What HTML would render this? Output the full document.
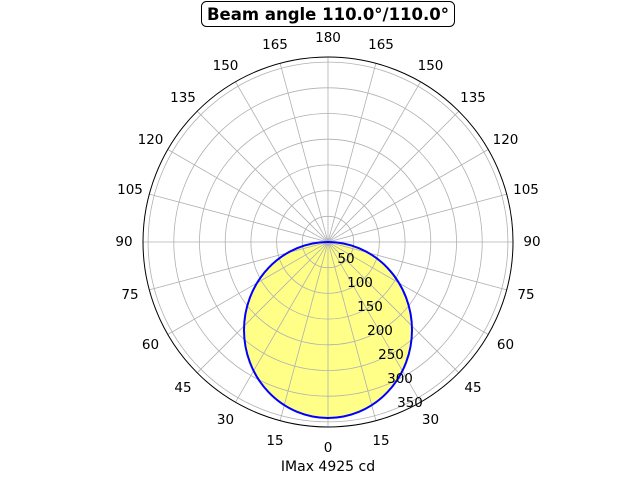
<!DOCTYPE html>
<html><head><meta charset="utf-8"><style>
body{margin:0;background:#fff;}
svg{display:block;font-family:"DejaVu Sans","Liberation Sans",sans-serif;}
</style></head><body>
<svg width="640" height="480" viewBox="0 0 640 480">
<rect width="640" height="480" fill="#fff"/>
<ellipse cx="328" cy="330" rx="84" ry="88" fill="#ffff88"/>
<g stroke="#b0b0b0" stroke-width="0.8" fill="none">
<circle cx="328" cy="242" r="25.7"/>
<circle cx="328" cy="242" r="51.4"/>
<circle cx="328" cy="242" r="77.1"/>
<circle cx="328" cy="242" r="102.8"/>
<circle cx="328" cy="242" r="128.5"/>
<circle cx="328" cy="242" r="154.2"/>
<circle cx="328" cy="242" r="179.9"/>
<line x1="328" y1="57" x2="328" y2="427"/>
<line x1="375.9" y1="63.3" x2="280.1" y2="420.7"/>
<line x1="280.1" y1="63.3" x2="375.9" y2="420.7"/>
<line x1="420.5" y1="81.8" x2="235.5" y2="402.2"/>
<line x1="235.5" y1="81.8" x2="420.5" y2="402.2"/>
<line x1="458.8" y1="111.2" x2="197.2" y2="372.8"/>
<line x1="197.2" y1="111.2" x2="458.8" y2="372.8"/>
<line x1="488.2" y1="149.5" x2="167.8" y2="334.5"/>
<line x1="167.8" y1="149.5" x2="488.2" y2="334.5"/>
<line x1="506.7" y1="194.1" x2="149.3" y2="289.9"/>
<line x1="149.3" y1="194.1" x2="506.7" y2="289.9"/>
<line x1="143" y1="242" x2="513" y2="242"/>
</g>
<circle cx="328" cy="242" r="185" fill="none" stroke="#000" stroke-width="1"/>
<ellipse cx="328" cy="330" rx="84" ry="88" fill="none" stroke="#0000ff" stroke-width="2"/>
<g font-size="13.5" text-anchor="middle" fill="#000">
<text x="346" y="263">50</text>
<text x="360" y="287">100</text>
<text x="370" y="311">150</text>
<text x="380" y="335">200</text>
<text x="391" y="359">250</text>
<text x="400" y="383">300</text>
<text x="410" y="407">350</text>
<text x="328" y="452">0</text>
<text x="275" y="445">15</text><text x="381" y="445">15</text>
<text x="225.5" y="424">30</text><text x="430.5" y="424">30</text>
<text x="183" y="392">45</text><text x="473" y="392">45</text>
<text x="150.5" y="349">60</text><text x="505.5" y="349">60</text>
<text x="130" y="299">75</text><text x="526" y="299">75</text>
<text x="124" y="246">90</text><text x="532" y="246">90</text>
<text x="130" y="194">105</text><text x="526" y="194">105</text>
<text x="150.5" y="144">120</text><text x="505.5" y="144">120</text>
<text x="183" y="102">135</text><text x="473" y="102">135</text>
<text x="225.5" y="70">150</text><text x="430.5" y="70">150</text>
<text x="275" y="49">165</text><text x="381" y="49">165</text>
<text x="328" y="42">180</text>
</g>
<rect x="201.5" y="1.5" width="253" height="25" rx="5" fill="#fff" stroke="#000" stroke-width="1"/>
<text x="328" y="20" font-size="16.5" font-weight="bold" text-anchor="middle">Beam angle 110.0°/110.0°</text>
<text x="328" y="471" font-size="14" text-anchor="middle">IMax 4925 cd</text>
</svg>
</body></html>
